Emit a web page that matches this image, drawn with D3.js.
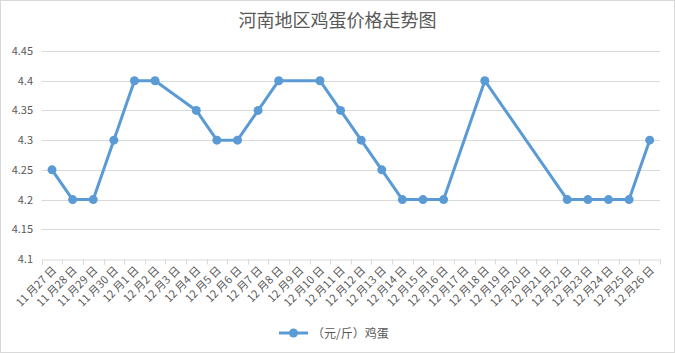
<!DOCTYPE html>
<html>
<head>
<meta charset="utf-8">
<script src="https://cdn.jsdelivr.net/npm/d3@7"></script>
<style>
    body { margin: 0; background: #fff; }
    text { font-family: "Noto Sans CJK SC", "Noto Sans", sans-serif; fill: #595959; }
</style>
</head>
<body>
<div id="chart"></div>
<script>
// dates and egg prices (null = no quote that day)
let dates = ["11月27日","11月28日","11月29日","11月30日","12月1日","12月2日","12月3日","12月4日","12月5日","12月6日",
    "12月7日","12月8日","12月9日","12月10日","12月11日","12月12日","12月13日","12月14日","12月15日","12月16日",
    "12月17日","12月18日","12月19日","12月20日","12月21日","12月22日","12月23日","12月24日","12月25日","12月26日"];
let prices = [4.25, 4.2, 4.2, 4.3, 4.4, 4.4, null, 4.35, 4.3, 4.3,
    4.35, 4.4, null, 4.4, 4.35, 4.3, 4.25, 4.2, 4.2, 4.2,
    null, 4.4, null, null, null, 4.2, 4.2, 4.2, 4.2, 4.3];
let yTicks = [4.1, 4.15, 4.2, 4.25, 4.3, 4.35, 4.4, 4.45];
let seriesName = "（元/斤）鸡蛋";
let title = "河南地区鸡蛋价格走势图";

let width = 675, height = 353;
let margin = {top: 51, right: 15, bottom: 94, left: 41.7};
let lineColor = "#5B9BD5";

let svg = d3.select("#chart").append("svg")
    .attr("width", width)
    .attr("height", height);

// outer border
svg.append("rect")
    .attr("x", 0.5).attr("y", 0.5)
    .attr("width", width - 1).attr("height", height - 1)
    .attr("fill", "#fff")
    .attr("stroke", "#d9d9d9");

svg.append("text")
    .attr("x", width / 2)
    .attr("y", 27)
    .attr("text-anchor", "middle")
    .style("font-size", "18px")
    .text(title);

let x = d3.scaleBand()
    .domain(dates)
    .range([margin.left, 660]);

let y = d3.scaleLinear()
    .domain([4.1, 4.45])
    .range([259, margin.top]);

// gridlines
svg.append("g")
    .selectAll("line")
    .data(yTicks.slice(1))
    .enter().append("line")
    .attr("x1", margin.left).attr("x2", 660)
    .attr("y1", d => Math.round(y(d)) + 0.5)
    .attr("y2", d => Math.round(y(d)) + 0.5)
    .attr("stroke", "#d9d9d9");

// y axis labels
svg.append("g")
    .selectAll("text")
    .data(yTicks)
    .enter().append("text")
    .attr("x", 33)
    .attr("y", d => y(d) + 4)
    .attr("text-anchor", "end")
    .style("font-size", "11px")
    .text(d => d);

// x axis line + ticks
let xAxis = d3.axisBottom(x).tickSize(0).tickFormat("");
let gx = svg.append("g")
    .attr("transform", `translate(0, ${Math.round(y(4.1)) + 0.5})`)
    .call(xAxis);
gx.select(".domain").attr("stroke", "#d9d9d9");

gx.selectAll(".band-tick")
    .data(d3.range(dates.length + 1))
    .enter().append("line")
    .attr("x1", i => Math.round(margin.left + i * x.step()) + 0.5)
    .attr("x2", i => Math.round(margin.left + i * x.step()) + 0.5)
    .attr("y1", 0).attr("y2", 5)
    .attr("stroke", "#d9d9d9");

// rotated date labels
svg.append("g")
    .selectAll("text")
    .data(dates)
    .enter().append("text")
    .attr("transform", d => `translate(${x(d) + x.bandwidth() / 2 + 5}, ${y(4.1) + 12}) rotate(-45)`)
    .attr("text-anchor", "end")
    .style("font-size", "11px")
    .text(d => d.replace("月", " 月").replace("日", " 日"));

// series
let points = dates.map((d, i) => ({date: d, value: prices[i]})).filter(p => p.value !== null);

let line = d3.line()
    .x(p => x(p.date) + x.bandwidth() / 2)
    .y(p => y(p.value));

svg.append("path")
    .datum(points)
    .attr("d", line)
    .attr("fill", "none")
    .attr("stroke", lineColor)
    .attr("stroke-width", 3)
    .attr("stroke-linejoin", "round");

svg.append("g")
    .selectAll("circle")
    .data(points)
    .enter().append("circle")
    .attr("cx", p => x(p.date) + x.bandwidth() / 2)
    .attr("cy", p => y(p.value))
    .attr("r", 4.5)
    .attr("fill", lineColor);

// legend
let legend = svg.append("g").attr("transform", "translate(279, 333)");
legend.append("line")
    .attr("x1", 0).attr("x2", 29)
    .attr("stroke", lineColor)
    .attr("stroke-width", 3);
legend.append("circle")
    .attr("cx", 14.5).attr("r", 4.5)
    .attr("fill", lineColor);
legend.append("text")
    .attr("x", 33)
    .attr("y", 4.5)
    .style("font-size", "12px")
    .text(seriesName);
</script>
</body>
</html>
